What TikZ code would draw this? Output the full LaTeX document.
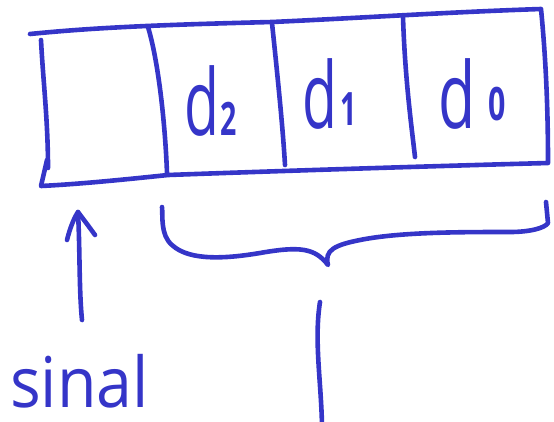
\documentclass[tikz,border=0pt]{standalone}
\usepackage{fontspec}
\newfontfamily\hand{Open Sans}[BoldFont={* Bold}]
\usetikzlibrary{arrows.meta}
\definecolor{ink}{RGB}{53,53,200}
\tikzset{
  pen/.style={draw=ink, line width=4.6pt, line cap=round, line join=round},
  digit/.style={text=ink, inner sep=0pt, font=\hand\fontsize{92}{92}\selectfont},
  word/.style={text=ink, inner sep=0pt, font=\hand\fontsize{70}{70}\selectfont}
}
\newcommand{\sub}[1]{{\bfseries\fontsize{46}{46}\selectfont #1}}
\begin{document}
\begin{tikzpicture}[x=1pt,y=-1pt]
\useasboundingbox (0,0) rectangle (554,421);
% register outline
\draw[pen] (30,34) .. controls (90,28) and (150,25) .. (272,22)
  .. controls (360,18) and (450,12) .. (541,9)
  .. controls (546,60) and (548,110) .. (548,163)
  .. controls (400,167) and (250,172) .. (168,175)
  .. controls (120,180) and (80,184) .. (41,186) -- (47,160);
\draw[pen] (41,40) .. controls (43,80) and (48,120) .. (48,168);
% cell dividers
\draw[pen] (148,27) .. controls (158,60) and (165,120) .. (167,173);
\draw[pen] (272,23) .. controls (278,80) and (283,130) .. (285,165);
\draw[pen] (403,17) .. controls (405,80) and (412,130) .. (415,157);
% cell contents
\node[digit, anchor=base west] (d2) at (184,135) {\scalebox{0.62}[1]{d\kern2pt\sub{2}}};
\node[digit, anchor=base west] (d1) at (302,128) {\scalebox{0.62}[1]{d\kern6pt\raisebox{3pt}{\sub{1}}}};
\node[digit, anchor=base west] (d0) at (438,128) {\scalebox{0.66}[1]{d\kern20pt\raisebox{8pt}{\sub{0}}}};
% sign label and arrow
\node[word, anchor=base west] (sinal) at (10,407) {\scalebox{0.92}[1]{sinal}};
\coordinate (atail) at (82,320);
\coordinate (ahead) at (78,212);
\draw[pen] (atail) .. controls (79,290) and (80,250) .. (ahead);
\draw[pen] (67,240) .. controls (70,228) and (74,218) .. (ahead) .. controls (84,220) and (90,228) .. (95,235);
% brace over the data bits
\coordinate (bl) at (162,207);
\coordinate (br) at (546,202);
\coordinate (tip) at (328,265);
\draw[pen] (bl) .. controls (163,215) and (160,235) .. (172,245)
  .. controls (190,262) and (230,258) .. (260,253)
  .. controls (300,246) and (315,248) .. (tip)
  .. controls (324,250) and (335,245) .. (360,240)
  .. controls (400,232) and (460,232) .. (510,232)
  .. controls (530,232) and (545,228) .. (548,223) -- (br);
% output line
\coordinate (ot) at (320,302);
\coordinate (ob) at (322,425);
\draw[pen] (ot) .. controls (314,340) and (321,380) .. (ob);
\end{tikzpicture}
\end{document}
